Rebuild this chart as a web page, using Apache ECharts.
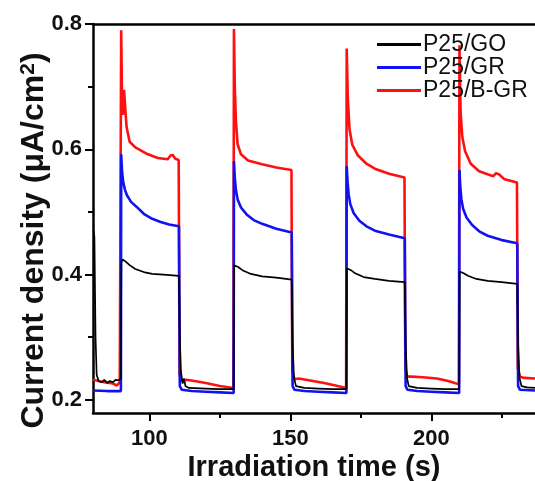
<!DOCTYPE html>
<html>
<head>
<meta charset="utf-8">
<script src="https://cdn.jsdelivr.net/npm/echarts@6/dist/echarts.min.js"></script>
<style>
html,body{margin:0;padding:0;background:#fff;}
#chart{width:535px;height:481px;}
</style>
</head>
<body>
<div id="chart"></div>
<script>
// ---- data ----
const seriesNames = ['P25/GO', 'P25/GR', 'P25/B-GR'];

const timeGO = [80.2, 80.5, 80.9, 81.3, 82, 83, 84, 85, 86, 87, 88, 89, 89.9, 90.05, 90.5, 91.5, 93, 95, 98, 101, 105, 110.5, 110.8, 111.2, 111.8, 112.3, 112.8, 114, 120, 125, 129.9,
  130.05, 130.5, 131.5, 133, 136, 140, 145, 150.5, 150.8, 151.3, 152, 155, 160, 165, 169.9,
  170.05, 170.5, 171.5, 173, 176, 180, 185, 190.6, 190.9, 191.4, 192, 195, 200, 205, 209.9,
  210.05, 210.5, 211.5, 213, 216, 220, 225, 230.5, 230.8, 231.3, 232, 234, 236.8];
const currentGO = [0.470, 0.460, 0.300, 0.240, 0.230, 0.228, 0.232, 0.227, 0.230, 0.228, 0.232, 0.231, 0.234, 0.420, 0.424, 0.421, 0.415, 0.409, 0.404, 0.401, 0.400, 0.398, 0.300, 0.245, 0.226, 0.234, 0.222, 0.219, 0.218, 0.217, 0.217,
  0.415, 0.416, 0.412, 0.407, 0.401, 0.397, 0.395, 0.392, 0.290, 0.235, 0.222, 0.219, 0.218, 0.217, 0.217,
  0.410, 0.411, 0.407, 0.402, 0.396, 0.393, 0.390, 0.388, 0.290, 0.235, 0.222, 0.219, 0.218, 0.217, 0.217,
  0.405, 0.406, 0.402, 0.398, 0.393, 0.390, 0.388, 0.385, 0.290, 0.235, 0.222, 0.220, 0.219];

const timeGR = [80, 85, 89.9, 90.0, 90.3, 90.7, 91.3, 92, 93.5, 95.5, 98, 101, 104, 107, 110.5, 110.8, 111.5, 115, 120, 125, 129.9,
  130.0, 130.3, 130.7, 131.3, 132.5, 134.5, 137, 140, 145, 150.5, 150.8, 151.5, 155, 160, 165, 169.9,
  170.0, 170.3, 170.7, 171.3, 172.5, 174.5, 177, 180, 185, 190.6, 190.9, 191.6, 195, 200, 205, 209.9,
  210.0, 210.3, 210.7, 211.3, 212.5, 214.5, 217, 220, 225, 230.5, 230.8, 231.5, 236.8];
const currentGR = [0.215, 0.214, 0.214, 0.592, 0.565, 0.548, 0.536, 0.527, 0.516, 0.508, 0.497, 0.489, 0.484, 0.480, 0.477, 0.222, 0.216, 0.214, 0.213, 0.212, 0.211,
  0.581, 0.555, 0.535, 0.520, 0.507, 0.496, 0.487, 0.481, 0.473, 0.467, 0.222, 0.216, 0.214, 0.213, 0.212, 0.211,
  0.573, 0.548, 0.528, 0.512, 0.498, 0.486, 0.477, 0.470, 0.464, 0.458, 0.222, 0.216, 0.214, 0.213, 0.212, 0.211,
  0.567, 0.540, 0.520, 0.505, 0.491, 0.479, 0.469, 0.462, 0.455, 0.450, 0.222, 0.216, 0.215];

const timeBGR = [80, 84, 87, 88.5, 89.5, 89.9, 90.0, 90.3, 90.6, 91.0, 91.9, 93, 95, 99, 103, 106.5, 107.5, 108.3, 109.2, 110.4, 110.7, 111.5, 113, 116, 120, 125, 129.8,
  130.0, 130.3, 130.7, 131.3, 132.5, 135, 140, 145, 150.4, 150.7, 151.5, 153, 157, 162, 166, 169.8,
  170.0, 170.4, 171, 172, 174, 177, 180, 185, 190.5, 190.8, 191.5, 193, 197, 202, 206, 209.8,
  210.0, 210.4, 211, 212, 214, 217, 220, 222, 223, 224, 226, 230.4, 230.7, 231.5, 233, 236.8];
const currentBGR = [0.232, 0.228, 0.226, 0.223, 0.228, 0.229, 0.790, 0.680, 0.655, 0.695, 0.636, 0.612, 0.603, 0.593, 0.586, 0.584, 0.590, 0.591, 0.585, 0.583, 0.240, 0.230, 0.232, 0.230, 0.227, 0.222, 0.219,
  0.792, 0.700, 0.645, 0.608, 0.592, 0.582, 0.576, 0.571, 0.567, 0.245, 0.233, 0.234, 0.231, 0.227, 0.223, 0.219,
  0.761, 0.680, 0.632, 0.607, 0.590, 0.577, 0.569, 0.561, 0.555, 0.250, 0.237, 0.237, 0.236, 0.234, 0.230, 0.225,
  0.766, 0.660, 0.620, 0.597, 0.577, 0.565, 0.560, 0.557, 0.562, 0.560, 0.552, 0.547, 0.250, 0.237, 0.235, 0.234];

// tick layout: first value and step of each tick set
const xMajorStart = 100, xMajorStep = 50;
const xMinorStart = 125, xMinorStep = 50;
const yMajorStart = 0.2, yMajorStep = 0.2;
const yMinorStart = 0.3, yMinorStep = 0.2;

const X_MIN = 80, X_MAX = 236.8, Y_MIN = 0.179, Y_MAX = 0.8;

function pairs(ts, vs) { return ts.map((t, i) => [t, vs[i]]); }

const W = 535, H = 481;
const GL = 93, GR = 0, GT = 24, GB = 68;
const pxX = (W - GL - GR) / (X_MAX - X_MIN);
const pxY = (H - GT - GB) / (Y_MAX - Y_MIN);
const EXT = 40; // tick grids run past the canvas so their end ticks are off-screen

const FONT = '"Liberation Sans", Arial, sans-serif';
const chart = echarts.init(document.getElementById('chart'), null, {renderer: 'canvas'});

const hiddenX = (gi) => ({type: 'value', gridIndex: gi, show: false, min: 0, max: 1});
const hiddenY = (gi) => ({type: 'value', gridIndex: gi, show: false, min: 0, max: 1});
const labelStyle = {fontFamily: FONT, fontSize: 22, fontWeight: 'bold', color: '#111'};

function xTickGrid(start) {
  return {left: GL + (start - X_MIN) * pxX, right: -EXT, top: GT, bottom: GB, outerBoundsMode: 'none', containLabel: false};
}
function yTickGrid(start) {
  return {left: GL, right: GR, top: -EXT, bottom: GB + (start - Y_MIN) * pxY, outerBoundsMode: 'none', containLabel: false};
}
const xTickMax = X_MAX + (GR + EXT) / pxX;
const yTickMax = Y_MAX + (GT + EXT) / pxY;

chart.setOption({
  animation: false,
  backgroundColor: '#ffffff',
  grid: [
    {left: GL, right: GR, top: GT, bottom: GB, outerBoundsMode: 'none', containLabel: false},
    xTickGrid(xMajorStart),
    xTickGrid(xMinorStart),
    yTickGrid(yMajorStart),
    yTickGrid(yMinorStart)
  ],
  legend: {
    orient: 'vertical',
    left: 372,
    top: 28,
    itemWidth: 44,
    itemHeight: 3,
    itemGap: 0,
    icon: 'rect',
    data: seriesNames,
    textStyle: {fontFamily: FONT, fontSize: 23, color: '#111', lineHeight: 22, padding: [0, 0, 0, -3]}
  },
  xAxis: [
    { // main x axis (grid 0)
      type: 'value', gridIndex: 0, min: X_MIN, max: X_MAX, position: 'bottom',
      splitLine: {show: false},
      name: 'Irradiation time (s)',
      nameLocation: 'middle',
      nameGap: 40,
      nameTextStyle: {fontFamily: FONT, fontSize: 29, fontWeight: 'bold', color: '#111'},
      axisLine: {show: true, onZero: false, lineStyle: {color: '#000', width: 2.5}},
      axisTick: {show: false},
      axisLabel: {show: false}
    },
    { // top frame line
      type: 'value', gridIndex: 0, min: X_MIN, max: X_MAX, position: 'top',
      splitLine: {show: false},
      axisLine: {show: true, onZero: false, lineStyle: {color: '#000', width: 2.5}},
      axisTick: {show: false},
      axisLabel: {show: false}
    },
    { // major x ticks + labels
      type: 'value', gridIndex: 1, min: xMajorStart, max: xTickMax, interval: xMajorStep, position: 'bottom',
      splitLine: {show: false},
      axisLine: {show: false},
      axisTick: {show: true, inside: false, length: 8, lineStyle: {color: '#000', width: 2}},
      axisLabel: {show: true, margin: 15, showMaxLabel: false, ...labelStyle}
    },
    { // minor x ticks
      type: 'value', gridIndex: 2, min: xMinorStart, max: xTickMax, interval: xMinorStep, position: 'bottom',
      splitLine: {show: false},
      axisLine: {show: false},
      axisTick: {show: true, inside: false, length: 5, lineStyle: {color: '#000', width: 2}},
      axisLabel: {show: false}
    },
    hiddenX(3),
    hiddenX(4)
  ],
  yAxis: [
    { // main y axis (grid 0)
      type: 'value', gridIndex: 0, min: Y_MIN, max: Y_MAX, position: 'left',
      splitLine: {show: false},
      name: '{b|Current density (μA/cm}{s|2}{b|)}',
      nameLocation: 'middle',
      nameGap: 43,
      nameTextStyle: {
        padding: [0, 44, 0, 0],
        rich: {
          b: {fontFamily: FONT, fontSize: 32, fontWeight: 'bold', color: '#111'},
          s: {fontFamily: FONT, fontSize: 21, fontWeight: 'bold', color: '#111', verticalAlign: 'top', padding: [0, 0, 6, 0]}
        }
      },
      axisLine: {show: true, onZero: false, lineStyle: {color: '#000', width: 2.5}},
      axisTick: {show: false},
      axisLabel: {show: false}
    },
    hiddenY(1),
    hiddenY(2),
    { // major y ticks + labels
      type: 'value', gridIndex: 3, min: yMajorStart, max: yTickMax, interval: yMajorStep, position: 'left',
      splitLine: {show: false},
      axisLine: {show: false},
      axisTick: {show: true, inside: false, length: 8, lineStyle: {color: '#000', width: 2}},
      axisLabel: {show: true, margin: 11, showMaxLabel: false, formatter: v => v.toFixed(1), ...labelStyle}
    },
    { // minor y ticks
      type: 'value', gridIndex: 4, min: yMinorStart, max: yTickMax, interval: yMinorStep, position: 'left',
      splitLine: {show: false},
      axisLine: {show: false},
      axisTick: {show: true, inside: false, length: 5, lineStyle: {color: '#000', width: 2}},
      axisLabel: {show: false}
    }
  ],
  series: [
    {name: 'P25/B-GR', type: 'line', xAxisIndex: 0, yAxisIndex: 0, data: pairs(timeBGR, currentBGR), showSymbol: false, symbol: 'none',
      lineStyle: {color: '#ff1010', width: 2.6}, itemStyle: {color: '#ff1010'}, z: 2},
    {name: 'P25/GR', type: 'line', xAxisIndex: 0, yAxisIndex: 0, data: pairs(timeGR, currentGR), showSymbol: false, symbol: 'none',
      lineStyle: {color: '#1212f0', width: 2.6}, itemStyle: {color: '#1212f0'}, z: 3},
    {name: 'P25/GO', type: 'line', xAxisIndex: 0, yAxisIndex: 0, data: pairs(timeGO, currentGO), showSymbol: false, symbol: 'none',
      lineStyle: {color: '#000000', width: 1.7}, itemStyle: {color: '#000000'}, z: 4}
  ]
});
</script>
</body>
</html>
